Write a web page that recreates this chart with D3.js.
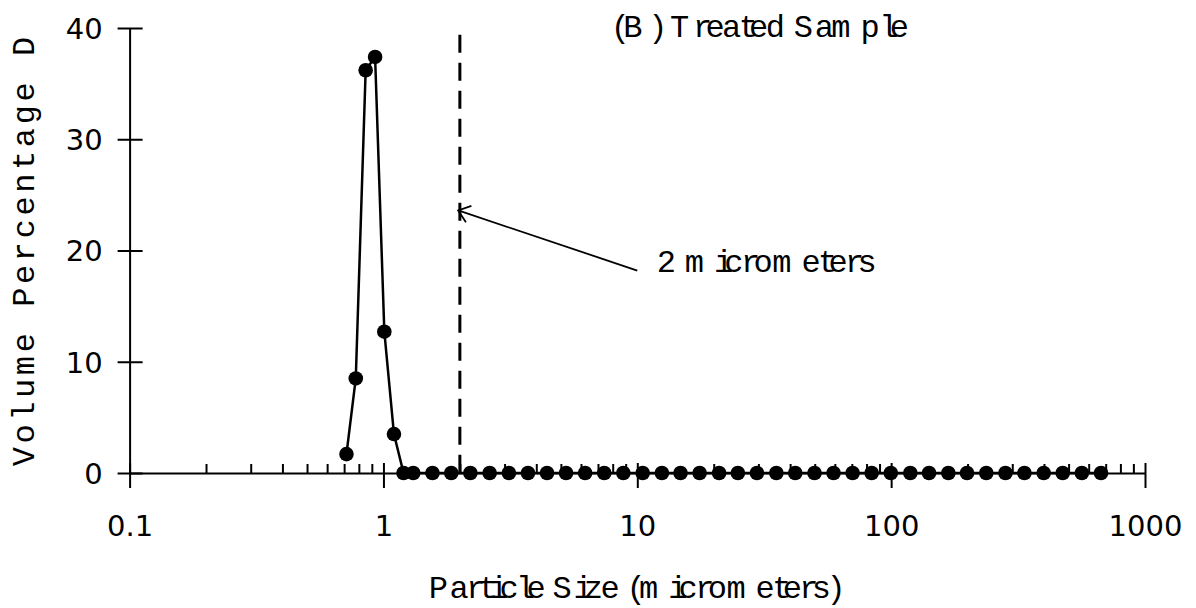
<!DOCTYPE html>
<html>
<head>
<meta charset="utf-8">
<script src="https://cdn.jsdelivr.net/npm/d3@7"></script>
<style>
  body { margin: 0; background: #fff; }
  svg { display: block; }
</style>
</head>
<body>
<svg id="chart" width="1196" height="608"></svg>
<script>
// Particle size bins (micrometers) and volume percentage in each bin
const particleSize = [
  0.715, 0.778, 0.851, 0.927, 1.008, 1.10, 1.20, 1.31,
  1.56, 1.85, 2.20, 2.62, 3.12, 3.71, 4.41, 5.24, 6.23, 7.41, 8.81,
  10.5, 12.5, 14.8, 17.6, 21.0, 24.9, 29.6, 35.3, 41.9, 49.9, 59.3, 70.5, 83.8,
  99.7, 119, 141, 168, 199, 237, 282, 335, 399, 474, 564, 671
];
const volumePct = [
  1.7, 8.5, 36.2, 37.4, 12.7, 3.5, 0, 0,
  0, 0, 0, 0, 0, 0, 0, 0, 0, 0, 0,
  0, 0, 0, 0, 0, 0, 0, 0, 0, 0, 0, 0, 0,
  0, 0, 0, 0, 0, 0, 0, 0, 0, 0, 0, 0
];

const xTickValues = [0.1, 1, 10, 100, 1000];
const xTickLabels = ["0.1", "1", "10", "100", "1000"];
const yTickValues = [0, 10, 20, 30, 40];
const yTickLabels = ["0", "10", "20", "30", "40"];

// 2 micrometer cut-off marker and its call-out arrow (data units)
const cutoffSize = 2;
const cutoffTop = 39.4;
const arrowTail = [10, 18.2];
const arrowTip = [1.97, 23.6];

const titleText = "(B) Treated Sample";
const xTitleText = "Particle Size (micrometers)";
const yTitleText = "Volume Percentage D";
const noteText = "2 micrometers";

const svg = d3.select("#chart");

const x = d3.scaleLog().domain([0.1, 1000]).range([129.6, 1145]);
const y = d3.scaleLinear().domain([0, 40]).range([473, 28]);

const tickFont = "'DejaVu Sans', sans-serif";

// ---- x axis: major ticks cross the line, minor ticks point inward ----
const minorTicks = x.ticks().filter(v => Math.abs(Math.log10(v) - Math.round(Math.log10(v))) > 1e-6);

const xMinor = svg.append("g")
  .attr("transform", `translate(0,${y(0)})`)
  .call(d3.axisTop(x).tickValues(minorTicks).tickSize(9).tickFormat(""));
xMinor.select(".domain").remove();
xMinor.selectAll("line").attr("stroke", "#000").attr("stroke-width", 2);

const xMajor = svg.append("g")
  .attr("transform", `translate(0,${y(0)})`)
  .call(d3.axisBottom(x).tickValues(xTickValues).tickSize(15).tickSizeOuter(0)
    .tickFormat((d, i) => xTickLabels[i]));
xMajor.select(".domain").attr("stroke", "#000").attr("stroke-width", 2);
xMajor.selectAll(".tick line").attr("y1", -10).attr("stroke", "#000").attr("stroke-width", 2);
xMajor.selectAll(".tick text")
  .attr("y", 63).attr("dy", null)
  .attr("font-family", tickFont).attr("font-size", 29).attr("fill", "#000");

// ---- y axis ----
const yAx = svg.append("g")
  .attr("transform", `translate(${x(0.1)},0)`)
  .call(d3.axisLeft(y).tickValues(yTickValues).tickSize(12).tickSizeOuter(0)
    .tickFormat((d, i) => yTickLabels[i]));
yAx.select(".domain").attr("stroke", "#000").attr("stroke-width", 2);
yAx.selectAll(".tick line").attr("x1", 13).attr("stroke", "#000").attr("stroke-width", 2);
yAx.selectAll(".tick text")
  .attr("x", -27).attr("dy", "0.36em")
  .attr("font-family", tickFont).attr("font-size", 29).attr("fill", "#000");

// ---- cut-off dashed line ----
svg.append("line")
  .attr("x1", x(cutoffSize)).attr("x2", x(cutoffSize))
  .attr("y1", y(cutoffTop)).attr("y2", y(0))
  .attr("stroke", "#000").attr("stroke-width", 3)
  .attr("stroke-dasharray", "18,10");

// ---- distribution line and markers ----
const pts = particleSize.map((s, i) => [s, volumePct[i]]);
svg.append("path")
  .datum(pts)
  .attr("fill", "none").attr("stroke", "#000").attr("stroke-width", 2.5)
  .attr("d", d3.line().x(d => x(d[0])).y(d => y(d[1])));

svg.append("g").selectAll("circle")
  .data(pts).join("circle")
  .attr("cx", d => x(d[0])).attr("cy", d => y(d[1]))
  .attr("r", 7.3).attr("fill", "#000");

// ---- call-out arrow ----
const ax0 = x(arrowTail[0]), ay0 = y(arrowTail[1]);
const ax1 = x(arrowTip[0]), ay1 = y(arrowTip[1]);
svg.append("line")
  .attr("x1", ax0).attr("y1", ay0).attr("x2", ax1).attr("y2", ay1)
  .attr("stroke", "#000").attr("stroke-width", 1.8);
const ang = Math.atan2(ay0 - ay1, ax0 - ax1);
const headLen = 14, headSpread = 38 * Math.PI / 180;
const headPath = d3.path();
headPath.moveTo(ax1 + headLen * Math.cos(ang - headSpread), ay1 + headLen * Math.sin(ang - headSpread));
headPath.lineTo(ax1, ay1);
headPath.lineTo(ax1 + headLen * Math.cos(ang + headSpread), ay1 + headLen * Math.sin(ang + headSpread));
svg.append("path").attr("d", headPath.toString())
  .attr("fill", "none").attr("stroke", "#000").attr("stroke-width", 1.8);

// ---- typewriter-style labels: mono glyphs set on serif advances ----
const CELL = 37.5;   // layout size
const GLYPH = 32;    // glyph size
const glyphFont = "'Liberation Mono', 'DejaVu Sans Mono', monospace";

function serifAdvances(str) {
  const m = svg.append("text")
    .attr("font-family", "'Liberation Serif', serif")
    .attr("font-size", CELL)
    .style("font-kerning", "none")
    .attr("x", 0).attr("y", -100)
    .text(str);
  const node = m.node();
  const pos = [];
  for (let i = 0; i < str.length; i++) pos.push(node.getStartPositionOfChar(i).x);
  m.remove();
  return pos;
}

function typeText(parent, str, positions, baseline) {
  const off = 0.3 * (CELL - GLYPH);
  return parent.append("text")
    .attr("font-family", glyphFont)
    .attr("font-size", GLYPH)
    .attr("fill", "#000")
    .attr("x", positions.map(p => (p + off).toFixed(2)).join(" "))
    .attr("y", baseline)
    .text(str);
}

function serifSet(str, x0, baseline) {
  const adv = serifAdvances(str);
  return typeText(svg, str, adv.map(p => p + x0), baseline);
}

serifSet(titleText, 609, 37);
serifSet(xTitleText, 427, 598);
serifSet(noteText, 655, 272);

// y title: even monospace cells, rotated
const yTitleG = svg.append("g").attr("transform", "translate(34,468) rotate(-90)");
typeText(yTitleG, yTitleText, yTitleText.split("").map((c, i) => i * 0.6 * 38), 0);
</script>
</body>
</html>
